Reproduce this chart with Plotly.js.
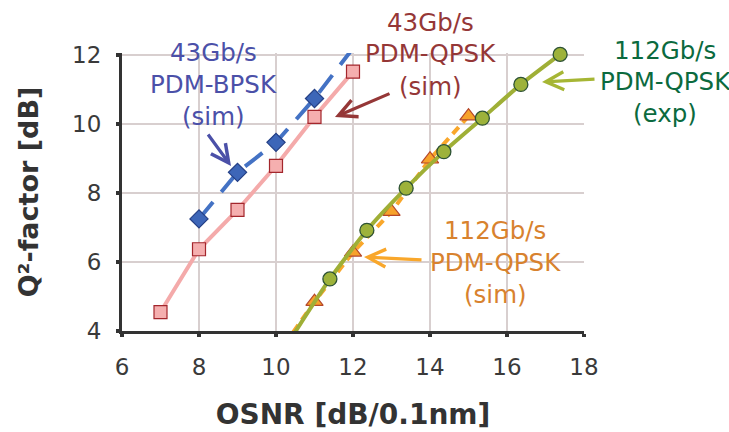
<!DOCTYPE html>
<html>
<head>
<meta charset="utf-8">
<script src="https://cdn.plot.ly/plotly-3.0.1.min.js"></script>
<style>html,body{margin:0;padding:0;background:#fff;}#chart{width:729px;height:432px;}</style>
</head>
<body>
<div id="chart"></div>
<script>
// ---- data ----
const osnrBpsk43 = [8, 9, 10, 11, 12];
const qBpsk43    = [7.25, 8.6, 9.47, 10.74, 12.2];

const osnrQpsk43 = [7, 8, 9, 10, 11, 12];
const qQpsk43    = [4.55, 6.37, 7.51, 8.79, 10.21, 11.52];

const osnrQpsk112Sim = [10, 11, 12, 13, 14, 15];
const qQpsk112Sim    = [3.25, 4.85, 6.28, 7.46, 8.98, 10.23];

const osnrQpsk112Exp = [10.4, 11.4, 12.36, 13.38, 14.36, 15.36, 16.36, 17.38];
const qQpsk112Exp    = [3.8, 5.51, 6.92, 8.14, 9.20, 10.17, 11.15, 12.02];

const xTicks = [6, 8, 10, 12, 14, 16, 18];
const yTicks = [4, 6, 8, 10, 12];

const labelBpsk43 = ["43Gb/s", "PDM-BPSK", "(sim)"];
const labelQpsk43 = ["43Gb/s", "PDM-QPSK", "(sim)"];
const labelExp112 = ["112Gb/s", "PDM-QPSK", "(exp)"];
const labelSim112 = ["112Gb/s", "PDM-QPSK", "(sim)"];

// ---- layout helpers ----
const W = 729, H = 432;
const M = {l: 122, r: 145, t: 53, b: 101};
const PW = W - M.l - M.r, PH = H - M.t - M.b;
const px = v => (v - M.l) / PW;
const py = v => (H - M.b - v) / PH;
const FONT = "DejaVu Sans";

// a tiny headroom above 12 so the last measured point is drawn whole;
// points outside the range (line continuations) get no marker
const yRange = [4, 12.06];

const traces = [
  {
    x: osnrBpsk43, y: qBpsk43, mode: "lines+markers", name: "43Gb/s PDM-BPSK (sim)",
    cliponaxis: false,
    line: {color: "#4472C4", width: 4, dash: "22px,13px"},
    marker: {symbol: "diamond", size: 14, opacity: 1, color: "#3D66B8", line: {color: "#243F85", width: 1.2}}
  },
  {
    x: osnrQpsk43, y: qQpsk43, mode: "lines+markers", name: "43Gb/s PDM-QPSK (sim)",
    cliponaxis: false,
    line: {color: "#F4AAAA", width: 4},
    marker: {symbol: "square", size: 13, opacity: 1, color: "#F5AFAF", line: {color: "#A3262C", width: 1.2}}
  },
  {
    x: osnrQpsk112Sim, y: qQpsk112Sim, mode: "lines+markers", name: "112Gb/s PDM-QPSK (sim)",
    cliponaxis: false,
    line: {color: "#F9A72B", width: 4, dash: "9px,6px"},
    marker: {symbol: "triangle-up", size: 15, opacity: 1, color: "#F7A22A", line: {color: "#B5462A", width: 1.2}}
  },
  {
    x: osnrQpsk112Exp, y: qQpsk112Exp, mode: "lines+markers", name: "112Gb/s PDM-QPSK (exp)",
    cliponaxis: false,
    line: {color: "#9FAF36", width: 4, shape: "spline", smoothing: 0.6},
    marker: {symbol: "circle", size: 14, opacity: 1, color: "#9DB23A", line: {color: "#2D5234", width: 1.3}}
  }
];

const annotations = [];
function addLabel(lines, cx, ys, color) {
  lines.forEach((t, i) => annotations.push({
    xref: "paper", yref: "paper", x: px(cx), y: py(ys[i]),
    xanchor: "center", yanchor: "middle", showarrow: false, text: t,
    font: {family: FONT, size: 24.5, color: color}
  }));
}
addLabel(labelBpsk43, 213, [52, 84, 116], "#4B50A8");
addLabel(labelQpsk43, 430, [22, 54, 86], "#953737");
addLabel(labelExp112, 665, [50, 81, 113], "#0B6A3E");
addLabel(labelSim112, 495, [230, 262, 294], "#D8822E");

function addArrow(hx, hy, tx, ty, color) {
  annotations.push({
    xref: "paper", yref: "paper", x: px(hx), y: py(hy), ax: tx - hx, ay: ty - hy,
    axref: "pixel", ayref: "pixel", text: "", showarrow: true,
    arrowhead: 5, arrowsize: 1.1, arrowwidth: 3.2, arrowcolor: color
  });
}
addArrow(231, 166, 207, 133, "#4B50A8");
addArrow(335, 117, 391, 93, "#953737");
addArrow(542, 82, 596, 79, "#A6B634");
addArrow(364, 257, 423, 260, "#F9A72B");

const axisCommon = {
  showgrid: true, gridcolor: "#D8CFCF", gridwidth: 1.3,
  showline: true, linecolor: "#333333", linewidth: 3,
  ticks: "outside", ticklen: 3, tickwidth: 4, tickcolor: "#333333",
  tickfont: {family: FONT, size: 23, color: "#3A3A3A"},
  zeroline: false, fixedrange: true
};

const layout = {
  width: W, height: H,
  margin: M,
  paper_bgcolor: "#ffffff", plot_bgcolor: "#ffffff",
  showlegend: false,
  xaxis: Object.assign({}, axisCommon, {
    range: [6, 18], tickvals: xTicks, ticktext: xTicks.map(String),
    ticklabelstandoff: 10,
    title: {text: "OSNR [dB/0.1nm]", standoff: 26, font: {family: FONT, size: 28, color: "#333333", weight: "bold"}}
  }),
  yaxis: Object.assign({}, axisCommon, {
    range: yRange, tickvals: yTicks, ticktext: yTicks.map(String),
    ticklabelstandoff: 10,
    title: {text: "Q²-factor [dB]", standoff: 26, font: {family: FONT, size: 27, color: "#333333", weight: "bold"}}
  }),
  annotations: annotations
};

Plotly.newPlot("chart", traces, layout, {displayModeBar: false, staticPlot: true});
</script>
</body>
</html>
